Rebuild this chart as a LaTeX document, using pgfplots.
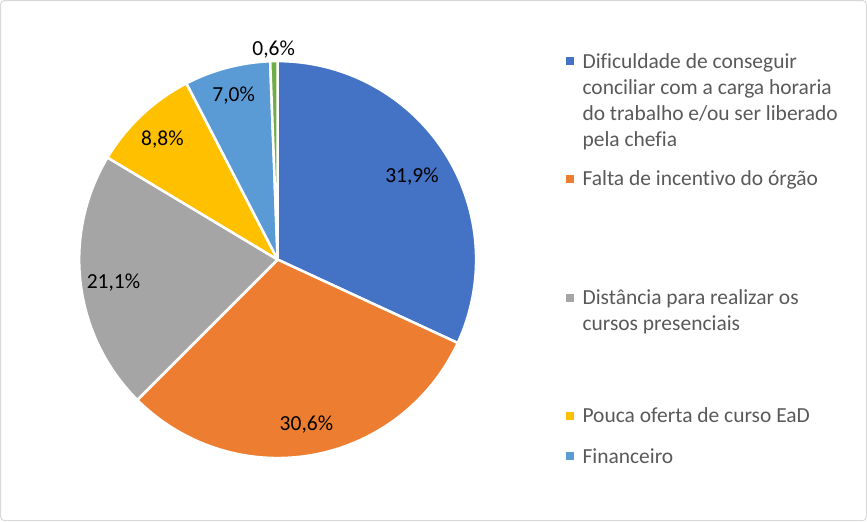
\documentclass[border=0pt]{standalone}
\usepackage{pgfplots}
\pgfplotsset{compat=1.18}
\usepackage{pgfplotstable}
\usepackage{fontspec}
\setmainfont[Ligatures=NoCommon]{Carlito}
\definecolor{slice0}{HTML}{4472C4}
\definecolor{slice1}{HTML}{ED7D31}
\definecolor{slice2}{HTML}{A5A5A5}
\definecolor{slice3}{HTML}{FFC000}
\definecolor{slice4}{HTML}{5B9BD5}
\definecolor{slice5}{HTML}{70AD47}
\definecolor{legtxt}{HTML}{595959}
\definecolor{frame}{HTML}{D9D9D9}
\pgfplotstableread{
value lbl r
31.9 31,9 159
30.6 30,6 164
21.1 21,1 165
8.8 8,8 168
7.0 7,0 172
0.6 0,6 213
}\piedata
\newcommand\labfont{\fontsize{21.5}{25}\selectfont}
\newcommand\legfont{\fontsize{21.5}{25}\selectfont\color{legtxt}}
\begin{document}
\begin{tikzpicture}
\begin{axis}[
  scale only axis, width=867bp, height=522bp,
  xmin=0, xmax=867, ymin=0, ymax=522, y dir=reverse,
  hide axis, clip=false]
\draw[frame, line width=1bp, rounded corners=4bp] (axis cs:1.5,1.5) rectangle (axis cs:865.5,520.5);
\def\startangle{90}
\pgfplotsforeachungrouped \i in {0,...,5}{%
  \pgfplotstablegetelem{\i}{value}\of\piedata \let\v\pgfplotsretval
  \pgfplotstablegetelem{\i}{lbl}\of\piedata \let\lb\pgfplotsretval
  \pgfplotstablegetelem{\i}{r}\of\piedata \let\lr\pgfplotsretval
  \pgfmathsetmacro\endangle{\startangle-3.6*\v}%
  \pgfmathsetmacro\midangle{(\startangle+\endangle)/2}%
  \edef\cmd{%
    \noexpand\fill[fill=slice\i, draw=white, line width=2.5bp, line join=round]
      (axis cs:278,260) -- ++(\startangle:198bp)
      arc[start angle=\startangle, end angle=\endangle, radius=198bp] -- cycle;
    \noexpand\path (axis cs:278,260) ++(\midangle:\lr bp)
      node[font=\noexpand\labfont, text=black, inner sep=0pt, yshift=-3bp] {\lb\noexpand\%};
  }%
  \cmd
  \let\startangle\endangle
}
% legend
\foreach \c/\y in {slice0/62, slice1/180, slice2/298, slice3/416, slice4/456}{
  \edef\cmd{\noexpand\fill[\c] (axis cs:566,\y-4) rectangle (axis cs:574,\y+4);}\cmd
}
\node[anchor=base west, inner sep=0pt, font=\legfont] at (axis cs:582,69) {Dificuldade de conseguir};
\node[anchor=base west, inner sep=0pt, font=\legfont] at (axis cs:582,95) {conciliar com a carga horaria};
\node[anchor=base west, inner sep=0pt, font=\legfont] at (axis cs:582,121) {do trabalho e/ou ser liberado};
\node[anchor=base west, inner sep=0pt, font=\legfont] at (axis cs:582,147) {pela chefia};
\node[anchor=base west, inner sep=0pt, font=\legfont] at (axis cs:582,186) {Falta de incentivo do órgão};
\node[anchor=base west, inner sep=0pt, font=\legfont] at (axis cs:582,305) {Distância para realizar os};
\node[anchor=base west, inner sep=0pt, font=\legfont] at (axis cs:582,331) {cursos presenciais};
\node[anchor=base west, inner sep=0pt, font=\legfont] at (axis cs:582,423) {Pouca oferta de curso EaD};
\node[anchor=base west, inner sep=0pt, font=\legfont] at (axis cs:582,463) {Financeiro};
\end{axis}
\end{tikzpicture}
\end{document}
